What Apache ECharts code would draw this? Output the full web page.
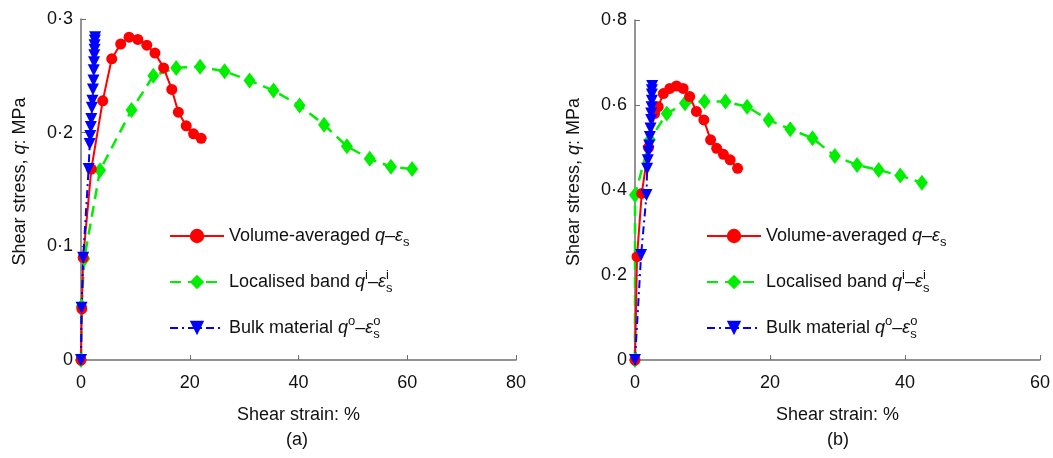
<!DOCTYPE html>
<html>
<head>
<meta charset="utf-8">
<script src="https://cdn.jsdelivr.net/npm/echarts@6/dist/echarts.min.js"></script>
<style>
html,body{margin:0;padding:0;background:#fff;}
#main{width:1053px;height:458px;}
</style>
</head>
<body>
<div id="main"></div>
<script>
// 图 (a) 数据：剪切应变 %，剪切应力 MPa
var redStrainA=[0,0.15,0.4,1.9,4.0,5.65,7.3,8.84,10.45,12.1,13.6,15.2,16.7,17.9,19.35,20.7,22.1];
var redStressA=[0,0.045,0.09,0.168,0.228,0.265,0.278,0.284,0.282,0.277,0.270,0.257,0.238,0.218,0.206,0.199,0.195];
var greenStrainA=[0,0.1,0.6,3.5,9.3,13.3,17.5,21.9,26.4,31.0,35.4,40.2,44.7,48.9,53.1,57.0,60.9];
var greenStressA=[0,0.047,0.089,0.167,0.220,0.250,0.257,0.258,0.254,0.246,0.237,0.224,0.207,0.188,0.177,0.170,0.168];
var blueStrainA=[0,0.1,0.4,1.4,1.6,1.7,1.8,1.9,2.0,2.1,2.2,2.3,2.35,2.4,2.45,2.5,2.5,2.55,2.6];
var blueStressA=[0,0.046,0.09,0.168,0.190,0.197,0.205,0.212,0.222,0.228,0.238,0.246,0.255,0.262,0.268,0.273,0.277,0.281,0.284];

// 图 (b) 数据
var redStrainB=[0,0.3,1.0,2.0,2.9,3.44,4.2,5.16,6.15,7.13,8.1,9.1,10.2,11.2,12.1,13.1,14.1,15.2];
var redStressB=[0,0.243,0.392,0.50,0.58,0.596,0.627,0.639,0.645,0.639,0.620,0.585,0.565,0.518,0.498,0.484,0.471,0.451];
var greenStrainB=[0,0,2.2,4.7,7.4,10.3,13.4,16.6,19.8,23.0,26.3,29.6,32.9,36.1,39.3,42.5];
var greenStressB=[0,0.388,0.518,0.580,0.604,0.608,0.608,0.596,0.565,0.543,0.522,0.480,0.459,0.447,0.434,0.417];
var blueStrainB=[0,0.9,1.7,1.8,1.9,2.0,2.1,2.2,2.3,2.4,2.4,2.45,2.5,2.5,2.5,2.55];
var blueStressB=[0,0.247,0.388,0.45,0.47,0.49,0.505,0.525,0.545,0.565,0.58,0.595,0.61,0.625,0.635,0.645];

var xTicksA={min:0,max:80,interval:20};
var xTicksB={min:0,max:60,interval:20};
var yTicksA={min:0,max:0.3,interval:0.1};
var yTicksB={min:0,max:0.8,interval:0.2};

var nameRed='Volume-averaged';
var nameGreen='Localised band';
var nameBlue='Bulk material';
var legendText={};
legendText[nameRed]='Volume-averaged {i|q}–{i|ε}{sub|s}';
legendText[nameGreen]='Localised band {i|q}{sup|i}–{i|ε}{supz|i}{sub|s}';
legendText[nameBlue]='Bulk material {i|q}{sup|o}–{i|ε}{supz|o}{sub|s}';

var FONT='"Liberation Sans", Arial, sans-serif';
var RED='#ff0000',GREEN='#00ee00',BLUE='#0000ff';

function pairs(xs,ys){
	var out=[];
	for(var i=0;i<xs.length;i++){out.push([xs[i],ys[i]]);}
	return out;
}

function yLabel(v){
	if(v===0){return '0';}
	return v.toFixed(1).replace('.','·');
}

var richText={
	i:{fontFamily:FONT,fontStyle:'italic',fontSize:18,lineHeight:26,color:'#111'},
	sub:{fontFamily:FONT,fontSize:13,verticalAlign:'bottom',lineHeight:15,color:'#111'},
	sup:{fontFamily:FONT,fontSize:13,verticalAlign:'top',lineHeight:15,color:'#111'},
	supz:{fontFamily:FONT,fontSize:13,verticalAlign:'top',lineHeight:15,width:0,color:'#111'}
};

function makeXAxis(idx,t){
	return {
		type:'value',gridIndex:idx,min:t.min,max:t.max,interval:t.interval,
		name:'Shear strain: %',nameLocation:'middle',nameGap:46,
		nameTextStyle:{fontFamily:FONT,fontSize:18,color:'#111'},
		axisLine:{lineStyle:{color:'#707070',width:1.5}},
		axisTick:{inside:true,length:5,lineStyle:{color:'#707070'}},
		axisLabel:{fontFamily:FONT,fontSize:18,color:'#111',margin:14},
		splitLine:{show:false}
	};
}

function makeYAxis(idx,t){
	return {
		type:'value',gridIndex:idx,min:t.min,max:t.max,interval:t.interval,
		name:'Shear stress, {i|q}: MPa',nameLocation:'middle',nameGap:52,
		nameTextStyle:{fontFamily:FONT,fontSize:18,color:'#111',padding:[0,0,0,16],rich:{i:{fontFamily:FONT,fontStyle:'italic',fontSize:18,color:'#111'}}},
		axisLine:{show:true,lineStyle:{color:'#707070',width:1.5}},
		axisTick:{show:true,inside:true,length:5,lineStyle:{color:'#707070'}},
		axisLabel:{fontFamily:FONT,fontSize:18,color:'#111',margin:8,formatter:yLabel},
		splitLine:{show:false}
	};
}

function makeSeries(idx,kind,xs,ys){
	var s={
		type:'line',xAxisIndex:idx,yAxisIndex:idx,data:pairs(xs,ys),clip:false,animation:false
	};
	if(kind==='red'){
		s.name=nameRed;s.symbol='circle';s.symbolSize=11;
		s.lineStyle={color:RED,width:2};s.itemStyle={color:RED};
	}else if(kind==='green'){
		s.name=nameGreen;s.symbol='diamond';s.symbolSize=[12,16];
		s.lineStyle={color:GREEN,width:2.5,type:[11,7]};s.itemStyle={color:GREEN};
	}else{
		s.name=nameBlue;s.symbol='triangle';s.symbolSize=12;s.symbolRotate=180;
		s.lineStyle={color:BLUE,width:2,type:[8,4,2,4]};s.itemStyle={color:BLUE};
	}
	return s;
}

function makeLegend(left){
	return {
		orient:'vertical',left:left,top:218,itemWidth:54,itemHeight:18,itemGap:20,
		data:[nameRed,nameGreen,nameBlue],
		formatter:function(n){return legendText[n];},
		textStyle:{fontFamily:FONT,fontSize:18,lineHeight:26,color:'#111',rich:richText}
	};
}

var myChart=echarts.init(document.getElementById('main'));
var option={
	backgroundColor:'#fff',
	animation:false,
	grid:[
		{left:81,top:19,width:435,height:341},
		{left:635,top:20,width:407,height:340}
	],
	xAxis:[makeXAxis(0,xTicksA),makeXAxis(1,xTicksB)],
	yAxis:[makeYAxis(0,yTicksA),makeYAxis(1,yTicksB)],
	legend:[makeLegend(164),makeLegend(701)],
	graphic:[
		{type:'text',x:297,y:440,style:{text:'(a)',font:'18px '+FONT,fill:'#111',align:'center',verticalAlign:'middle'}},
		{type:'text',x:838,y:440,style:{text:'(b)',font:'18px '+FONT,fill:'#111',align:'center',verticalAlign:'middle'}}
	],
	series:[
		makeSeries(0,'green',greenStrainA,greenStressA),
		makeSeries(0,'red',redStrainA,redStressA),
		makeSeries(0,'blue',blueStrainA,blueStressA),
		makeSeries(1,'green',greenStrainB,greenStressB),
		makeSeries(1,'red',redStrainB,redStressB),
		makeSeries(1,'blue',blueStrainB,blueStressB)
	]
};
myChart.setOption(option);
</script>
</body>
</html>
